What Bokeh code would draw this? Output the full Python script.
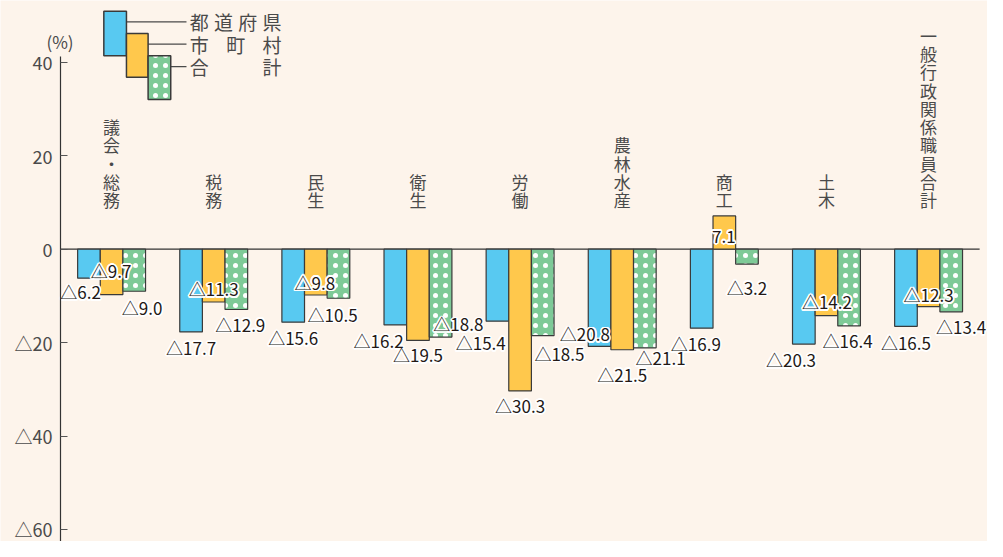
import math
from bokeh.plotting import figure
from bokeh.models import FixedTicker, ColumnDataSource, Range1d
from bokeh.core.properties import value
from bokeh.embed import file_html
from bokeh.resources import INLINE

# ---------------- data ----------------
categories = ["議会・総務", "税務", "民生", "衛生", "労働", "農林水産", "商工", "土木", "一般行政関係職員合計"]
prefectures = [-6.2, -17.7, -15.6, -16.2, -15.4, -20.8, -16.9, -20.3, -16.5]     # 都道府県
municipalities = [-9.7, -11.3, -9.8, -19.5, -30.3, -21.5, 7.1, -14.2, -12.3]    # 市町村
totals = [-9.0, -12.9, -10.5, -18.8, -18.5, -21.1, -3.2, -16.4, -13.4]          # 合計
series_names = ["都道府県", "市町村", "合計"]
y_ticks = [40, 20, 0, -20, -40, -60]
y_tick_labels = ["40", "20", "0", "△20", "△40", "△60"]
unit_label = "(%)"

# ---------------- layout / style ----------------
BG = "#FDF4EB"
BLUE = "#58C9F1"
YELLOW = "#FFC84C"
GREEN = "#7ECA97"
EDGE = "#3a3a3a"
TXT = "#231815"
GRAY = "#4a4a4a"
FONT = value("Noto Sans CJK JP")

W, H = 987, 541                 # figure size
REF_W, REF_H = 1003, 557        # reference picture size
PX_X = 103.78                   # reference pixels per category
PX_Y = 4.817                    # reference pixels per percent


def sx(px):  # reference x (px) -> data x
    return (px - 61) / PX_X


def sy(py):  # reference y (px) -> data y
    return (256 - py) / PX_Y


p = figure(width=W, height=H, x_range=Range1d(sx(0), sx(REF_W)), y_range=Range1d(sy(REF_H), sy(0)),
           output_backend="svg", toolbar_location=None, x_axis_location=None,
           min_border_left=0, min_border_right=0, min_border_top=0, min_border_bottom=0)
p.background_fill_color = BG
p.border_fill_color = BG
p.outline_line_color = None
p.grid.visible = False

ax = p.yaxis[0]
ax.fixed_location = 0
ax.ticker = FixedTicker(ticks=y_ticks)
ax.major_label_overrides = {t: lab for t, lab in zip(y_ticks, y_tick_labels)}
ax.major_label_text_font = "Noto Sans CJK JP"
ax.major_label_text_font_size = "18px"
ax.major_label_text_color = GRAY
ax.major_label_standoff = 8
ax.axis_line_color = "#333333"
ax.axis_line_width = 1.2
ax.major_tick_line_color = "#555555"
ax.major_tick_in = 7
ax.major_tick_out = 0
ax.minor_tick_line_color = None
ax.bounds = (sy(600), sy(58))

# zero line
p.segment(x0=[0], y0=[0], x1=[sx(995)], y1=[0], line_color="#333333", line_width=1.2)

BW = 23 / PX_X
n = len(categories)
centers = [i + 0.5 for i in range(n)]
series = [prefectures, municipalities, totals]
colors = [BLUE, YELLOW, GREEN]
shifts = [-BW, 0.0, BW]
DOTS = dict(hatch_pattern="dot", hatch_color="white", hatch_scale=10, hatch_weight=1.1)

for vals, col, sh in zip(series, colors, shifts):
    xs = [c + sh for c in centers]
    kw = dict(fill_color=col, line_color=EDGE, line_width=1.2)
    if col == GREEN:
        kw.update(DOTS)
    p.vbar(x=xs, top=vals, bottom=0, width=BW, **kw)

# ---- value labels (reference-pixel offsets from each bar's end) ----
lab_dx = [
    [-8.5, 0, 0, -17, -17, -15, -6, -13, 0],
    [-0.5, 0, -1, 0, 0, 0, -0.5, 0.5, 0],
    [8, 4, -6, 18, 17, 16, 0, -1.5, 10],
]
lab_dy = [
    [14, 16, 16, 16, 22, -13, 16, 16, 16.5],
    [-24.7, -13.4, -13.2, 15, 15, 25.4, 21, -14.4, -12.2],
    [16.6, 15, 16.4, -13.6, 18, 10.4, 23.6, 15, 15.5],
]

LX, LY, LT = [], [], []
for s, (vals, sh) in enumerate(zip(series, shifts)):
    for i, v in enumerate(vals):
        LX.append(centers[i] + sh + lab_dx[s][i] / PX_X)
        LY.append(v - lab_dy[s][i] / PX_Y)
        LT.append(("△" + f"{abs(v):.1f}") if v < 0 else f"{v:.1f}")
src = ColumnDataSource(dict(x=LX, y=LY, t=LT))
r = 1.7
for k in range(12):
    a = 2 * math.pi * k / 12
    p.text(x="x", y="y", text="t", source=src, text_font=FONT, text_font_size="17px",
           text_color="white", text_align="center", text_baseline="middle",
           x_offset=r * math.cos(a), y_offset=r * math.sin(a))
p.text(x="x", y="y", text="t", source=src, text_font=FONT, text_font_size="17px",
       text_color=TXT, text_align="center", text_baseline="middle")

# ---- vertical category labels ----
CX, CY, CT = [], [], []
for i, name in enumerate(categories):
    m = len(name)
    for k, ch in enumerate(name):
        CX.append(centers[i])
        CY.append(sy(205 - (m - 1 - k) * 18.8))
        CT.append(ch)
p.text(x=CX, y=CY, text=CT, text_font=FONT, text_font_size="17px", text_color=GRAY,
       text_align="center", text_baseline="middle")

# ---- legend (top-left) ----
leg_boxes = [(105, 128, 11, 57), (128, 150, 34, 79), (150, 173, 57, 102)]
leg_line_y = [22, 45, 68]
for (l, rr, t, b), col, ly in zip(leg_boxes, colors, leg_line_y):
    p.segment(x0=[sx(rr)], y0=[sy(ly)], x1=[sx(189)], y1=[sy(ly)], line_color=GRAY, line_width=1.2)
    kw = dict(fill_color=col, line_color=EDGE, line_width=1.5)
    if col == GREEN:
        kw.update(DOTS)
    p.quad(left=[sx(l)], right=[sx(rr)], top=[sy(t)], bottom=[sy(b)], **kw)

LGX, LGY, LGT = [], [], []
for name, ly in zip(series_names, leg_line_y):
    m = len(name)
    for k, ch in enumerate(name):
        LGX.append(sx(202 + (276 - 202) * k / (m - 1)))
        LGY.append(sy(ly))
        LGT.append(ch)
p.text(x=LGX, y=LGY, text=LGT, text_font=FONT, text_font_size="19px", text_color=GRAY,
       text_align="center", text_baseline="middle")

p.text(x=[sx(60.5)], y=[sy(42)], text=[unit_label], text_font=FONT, text_font_size="17px",
       text_color=GRAY, text_align="center", text_baseline="middle")

open("out.html", "w").write(file_html(p, INLINE))
